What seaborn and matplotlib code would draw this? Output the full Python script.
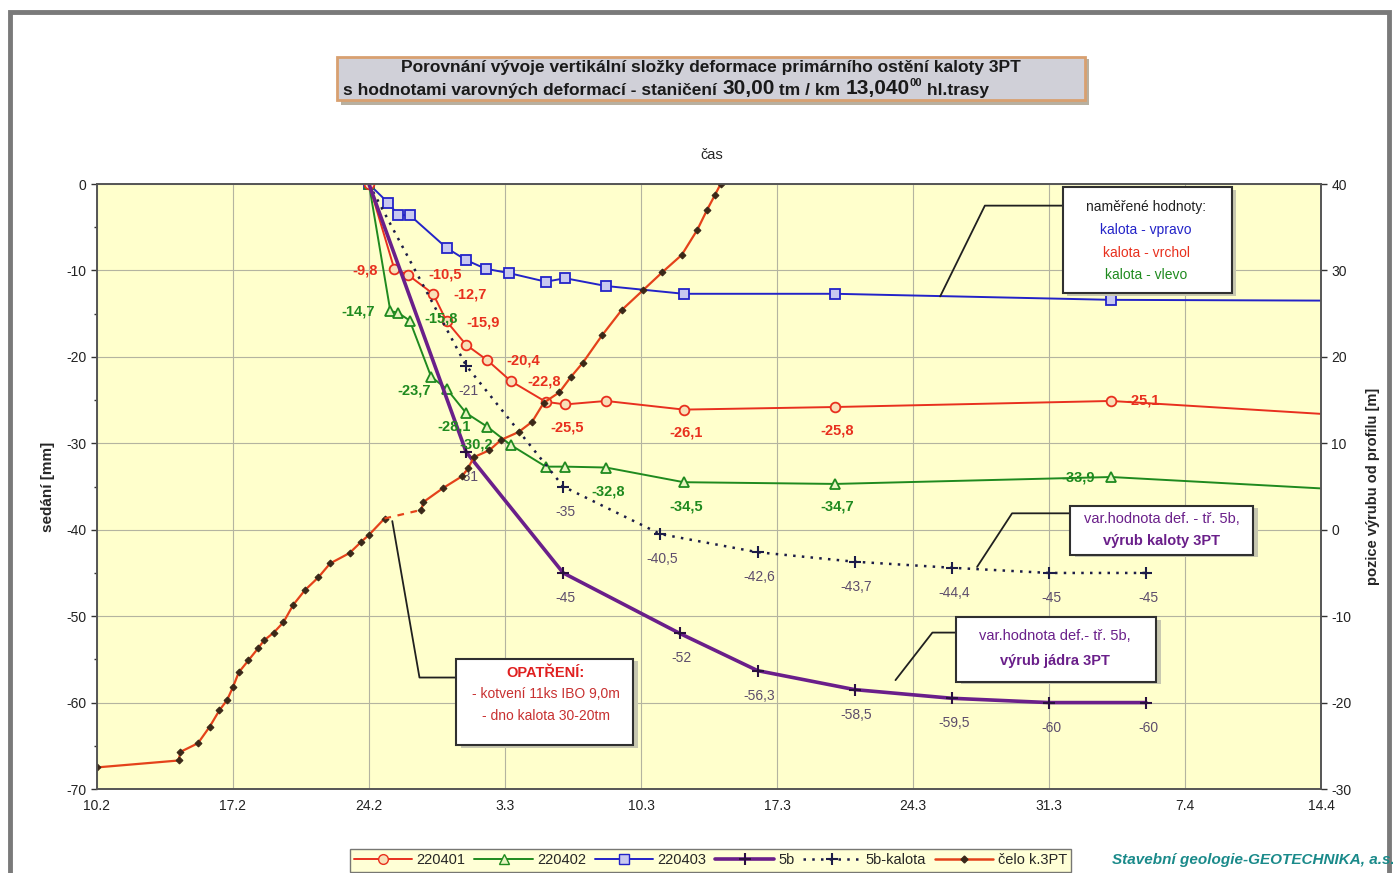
import matplotlib

matplotlib.use("Agg")
import matplotlib.pyplot as plt
import pandas as pd
import seaborn as sns
from matplotlib.lines import Line2D
from matplotlib.patches import Rectangle
from matplotlib.text import Annotation

# x = days since 10.2, left axis = settlement [mm], right axis = face position [m]
tick_labels = ["10.2", "17.2", "24.2", "3.3", "10.3", "17.3", "24.3", "31.3", "7.4", "14.4"]

days_401 = [14.0, 15.3, 16.0, 17.3, 18.0, 19.0, 20.1, 21.3, 23.1, 24.1, 26.2, 30.2, 38.0, 52.2, 64.5]
vals_401 = [0, -9.8, -10.5, -12.7, -15.9, -18.6, -20.4, -22.8, -25.2, -25.5, -25.1, -26.1, -25.8, -25.1, -26.8]

days_402 = [14.0, 15.1, 15.5, 16.1, 17.2, 18.0, 19.0, 20.1, 21.3, 23.1, 24.1, 26.2, 30.2, 38.0, 52.2, 64.5]
vals_402 = [0, -14.7, -14.9, -15.8, -22.3, -23.7, -26.5, -28.1, -30.2, -32.7, -32.7, -32.8, -34.5, -34.7, -33.9, -35.4]

days_403 = [14.0, 15.0, 15.5, 16.1, 18.0, 19.0, 20.0, 21.2, 23.1, 24.1, 26.2, 30.2, 38.0, 52.2, 64.5]
vals_403 = [0, -2.2, -3.6, -3.6, -7.4, -8.8, -9.8, -10.3, -11.3, -10.9, -11.8, -12.7, -12.7, -13.4, -13.5]

days_5b = [14, 19, 24, 30, 34, 39, 44, 49, 54]
vals_5b = [0, -31, -45, -52, -56.3, -58.5, -59.5, -60, -60]

days_kal = [14, 19, 24, 29, 34, 39, 44, 49, 54]
vals_kal = [0, -21, -35, -40.5, -42.6, -43.7, -44.4, -45, -45]

days_celo_a = [0, 4.2, 4.3, 5.2, 5.8, 6.3, 6.7, 7.0, 7.3, 7.8, 8.3, 8.6, 9.1, 9.6, 10.1, 10.7,
               11.4, 12.0, 13.0, 13.6, 14.0, 14.8]
vals_celo_a = [-27.5, -26.7, -25.7, -24.7, -22.8, -20.9, -19.7, -18.2, -16.5, -15.1, -13.7, -12.8,
               -11.9, -10.7, -8.7, -7.0, -5.5, -3.9, -2.7, -1.4, -0.6, 1.3]
days_celo_b = [16.7, 16.8, 17.8, 18.8, 19.1, 19.4, 20.2, 20.8, 21.7, 22.4, 23.0, 23.8, 24.4, 25.0,
               26.0, 27.0, 28.1, 29.1, 30.1, 30.9, 31.4, 31.8, 32.1]
vals_celo_b = [2.3, 3.2, 4.8, 6.2, 7.1, 8.4, 9.2, 10.4, 11.3, 12.5, 14.7, 15.9, 17.7, 19.3,
               22.5, 25.4, 27.7, 29.8, 31.8, 34.7, 37.0, 38.7, 40.0]

# label offsets in pixels (None = no label)
off_401 = [None, (-29, -2), (37, 0), (37, -1), (36, -1), None, (36, 0), (33, 0), None, (2, -23),
           None, (2, -23), (2, -23), (32, 0), None]
off_402 = [None, (-32, 0), None, (31, 2), None, (-33, -2), None, (-33, 0), (-35, 1), None, None,
           (2, -24), (2, -24), (2, -23), (-33, 0), None]

sns.set_theme(style="white")
plt.rcParams["font.family"] = ["Liberation Sans", "DejaVu Sans"]
plt.rcParams["axes.unicode_minus"] = False
NARROW = ["Liberation Sans Narrow", "Liberation Sans", "DejaVu Sans"]

C_RED, C_GREEN, C_BLUE = "#e8301e", "#1f8a1f", "#2323c8"
C_5B, C_KAL, C_CELO = "#6a1f8a", "#1c1c48", "#e4421a"
C_LAB = "#5c4c6c"


def fmt(v):
    return str(int(v)) if float(v).is_integer() else f"{v:.1f}".replace(".", ",")


def draw(axis, days, vals, **kw):
    df = pd.DataFrame({"den": days, "hodnota": vals})
    sns.lineplot(data=df, x="den", y="hodnota", ax=axis, estimator=None, sort=False, **kw)


def labels(axis, days, vals, offs, color, **kw):
    for d, v, o in zip(days, vals, offs):
        if o is None:
            continue
        axis.annotate(fmt(v), (d, v), xytext=o, textcoords="offset pixels", ha="center",
                      va="center", color=color, **kw)


fig = plt.figure(figsize=(13.93, 8.73), dpi=100)
ax = fig.add_axes([0.0696, 0.0962, 0.8787, 0.693])
ax.set_facecolor("#ffffcc")
ax2 = ax.twinx()

draw(ax, days_403, vals_403, color=C_BLUE, lw=1.4, marker="s", markersize=7,
     markerfacecolor="#c8c8f0", markeredgecolor=C_BLUE, markeredgewidth=1.3)
draw(ax, days_402, vals_402, color=C_GREEN, lw=1.4, marker="^", markersize=7,
     markerfacecolor="#e8f4c0", markeredgecolor=C_GREEN, markeredgewidth=1.3)
draw(ax, days_401, vals_401, color=C_RED, lw=1.4, marker="o", markersize=7,
     markerfacecolor="#f8e0b8", markeredgecolor=C_RED, markeredgewidth=1.3)
draw(ax, days_kal, vals_kal, color=C_KAL, lw=1.8, linestyle=(0, (1, 2.5)))
ax.plot(days_kal[1:], vals_kal[1:], "+", color=C_KAL, markersize=9, mew=1.5)
draw(ax, days_5b, vals_5b, color=C_5B, lw=2.6)
ax.plot(days_5b[1:], vals_5b[1:], "+", color="#2a1040", markersize=9, mew=1.5)

labels(ax, days_401, vals_401, off_401, C_RED, fontsize=10.5, fontweight="bold")
labels(ax, days_402, vals_402, off_402, C_GREEN, fontsize=10.5, fontweight="bold")
labels(ax, days_5b, vals_5b, [None] + [(2, -25)] * 8, C_LAB, fontsize=10)
labels(ax, days_kal, vals_kal, [None] + [(2, -25)] * 8, C_LAB, fontsize=10)

draw(ax2, days_celo_a, vals_celo_a, color=C_CELO, lw=1.6, marker="D", markersize=3.5,
     markerfacecolor="#3a2818", markeredgecolor="#3a2818")
draw(ax2, days_celo_b, vals_celo_b, color=C_CELO, lw=1.6, marker="D", markersize=3.5,
     markerfacecolor="#3a2818", markeredgecolor="#3a2818")
ax2.plot([days_celo_a[-1], days_celo_b[0]], [vals_celo_a[-1], vals_celo_b[0]], color=C_CELO,
         lw=1.6, linestyle=(0, (3, 3)))

# axes
ax.set_xlim(0, 63)
ax.set_xticks(range(0, 64, 7))
ax.set_xticklabels(tick_labels, family=NARROW)
ax.set_ylim(-70, 0)
ax.set_yticks(range(-70, 1, 10))
ax.set_yticks(range(-65, 0, 10), minor=True)
ax2.set_ylim(-30, 40)
ax2.set_yticks(range(-30, 41, 10))
for a in (ax, ax2):
    for lab in a.get_yticklabels():
        lab.set_family(NARROW)
    a.tick_params(axis="both", which="major", direction="out", length=4, width=1, colors="#333333",
                  labelsize=10, labelcolor="#222222")
    a.tick_params(axis="y", which="minor", direction="out", length=2, width=1, colors="#333333", left=True)
    a.set_xlabel("")
ax.grid(True, which="major", color="#b4b4a0", lw=0.8)
ax2.grid(False)
for a in (ax, ax2):
    for s in a.spines.values():
        s.set_color("#555555")
        s.set_linewidth(1.2)
ax.set_ylabel("sedání [mm]", fontsize=11, fontweight="bold", family=NARROW, labelpad=8)
ax2.set_ylabel("pozice výrubu od profilu [m]", fontsize=10.5, fontweight="bold", family=NARROW,
               labelpad=10)
fig.text(0.511, 0.822, "čas", ha="center", va="center", fontsize=10.5, family=NARROW)


# annotation boxes (data coordinates of the left axis)
def box(x0, x1, y0, y1):
    ax.add_patch(Rectangle((x0 + 0.25, y0 - 0.3), x1 - x0, y1 - y0, facecolor="#c8c8b0",
                           edgecolor="none", zorder=5))
    ax.add_patch(Rectangle((x0, y0), x1 - x0, y1 - y0, facecolor="white", edgecolor="#303030",
                           lw=1.5, zorder=6))


def leader(xs, ys):
    ax.plot(xs, ys, color="#202020", lw=1.3, zorder=5)


leader([43.4, 45.7, 49.7], [-13.0, -2.5, -2.5])
box(49.7, 58.4, -12.6, -0.35)
for txt, y, c in [("naměřené hodnoty:", -2.7, "#222222"), ("kalota - vpravo", -5.3, C_BLUE),
                  ("kalota - vrchol", -8.0, C_RED), ("kalota - vlevo", -10.5, C_GREEN)]:
    ax.text(54.0, y, txt, ha="center", va="center", color=c, fontsize=10, family=NARROW, zorder=7)

leader([45.3, 47.1, 50.1], [-44.3, -38.1, -38.1])
box(50.1, 59.5, -42.9, -37.2)
ax.text(54.8, -38.8, "var.hodnota def. - tř. 5b,", ha="center", va="center", color=C_5B,
        fontsize=10.5, family=NARROW, zorder=7)
ax.text(54.8, -41.3, "výrub kaloty 3PT", ha="center", va="center", color=C_5B, fontsize=10.5,
        fontweight="bold", family=NARROW, zorder=7)

leader([41.1, 43.0, 44.2], [-57.4, -51.9, -51.9])
box(44.2, 54.5, -57.6, -50.1)
ax.text(49.3, -52.3, "var.hodnota def.- tř. 5b,", ha="center", va="center", color=C_5B,
        fontsize=10.5, family=NARROW, zorder=7)
ax.text(49.3, -55.2, "výrub jádra 3PT", ha="center", va="center", color=C_5B, fontsize=10.5,
        fontweight="bold", family=NARROW, zorder=7)

leader([15.2, 16.6, 18.5], [-39.0, -57.1, -57.1])
box(18.5, 27.6, -64.9, -54.9)
ax.text(23.1, -56.6, "OPATŘENÍ:", ha="center", va="center", color="#e02020", fontsize=10.5,
        fontweight="bold", family=NARROW, zorder=7)
ax.text(23.1, -59.0, "- kotvení 11ks IBO 9,0m", ha="center", va="center", color="#c83030",
        fontsize=10, family=NARROW, zorder=7)
ax.text(23.1, -61.5, "- dno kalota 30-20tm", ha="center", va="center", color="#c83030",
        fontsize=10, family=NARROW, zorder=7)

# title box
fig.patches.append(Rectangle((0.245, 0.880), 0.537, 0.052, transform=fig.transFigure,
                             facecolor="#b8b0a0", edgecolor="none", zorder=0))
fig.patches.append(Rectangle((0.242, 0.885), 0.537, 0.050, transform=fig.transFigure,
                             facecolor="#d0d0d8", edgecolor="#d8a070", lw=2, zorder=1))
TK = dict(fontweight="bold", family=NARROW, color="#1a1a1a")
fig.text(0.5105, 0.9225, "Porovnání vývoje vertikální složky deformace primárního ostění kaloty 3PT",
         ha="center", va="center", fontsize=12.5, **TK)
first = fig.text(0.2465, 0.8875, "s hodnotami varovných deformací - staničení ", ha="left",
                 va="bottom", fontsize=12.5, **TK)
big1 = fig.add_artist(Annotation("30,00", xy=(1, 0), xycoords=first, ha="left", va="bottom",
                                 fontsize=15, **TK))
mid = fig.add_artist(Annotation(" tm / km ", xy=(1, 0), xycoords=big1, ha="left", va="bottom",
                                fontsize=12.5, **TK))
big2 = fig.add_artist(Annotation("13,040", xy=(1, 0), xycoords=mid, ha="left", va="bottom",
                                 fontsize=15, **TK))
sup = fig.add_artist(Annotation("00", xy=(1, 0.55), xycoords=big2, ha="left", va="bottom",
                                fontsize=8, **TK))
fig.add_artist(Annotation(" hl.trasy", xy=(1, 0), xycoords=(sup, first), ha="left", va="bottom",
                          fontsize=12.5, **TK))

# legend
handles = [
    Line2D([], [], color=C_RED, lw=1.4, marker="o", markersize=7, markerfacecolor="#f8e0b8",
           markeredgecolor=C_RED),
    Line2D([], [], color=C_GREEN, lw=1.4, marker="^", markersize=7, markerfacecolor="#e8f4c0",
           markeredgecolor=C_GREEN),
    Line2D([], [], color=C_BLUE, lw=1.4, marker="s", markersize=7, markerfacecolor="#c8c8f0",
           markeredgecolor=C_BLUE),
    Line2D([], [], color=C_5B, lw=2.6, marker="+", markersize=9, markeredgecolor="#2a1040", mew=1.5),
    Line2D([], [], color=C_KAL, lw=1.8, linestyle=(0, (1, 2.5)), marker="+", markersize=9, mew=1.5),
    Line2D([], [], color=C_CELO, lw=1.8, marker="D", markersize=3.5, markerfacecolor="#3a2818",
           markeredgecolor="#3a2818"),
]
leg = fig.legend(handles, ["220401", "220402", "220403", "5b", "5b-kalota", "čelo k.3PT"],
                 loc="center", bbox_to_anchor=(0.51, 0.0145), ncol=6, frameon=True,
                 handlelength=4.0, handletextpad=0.3, columnspacing=0.6, borderpad=0.3,
                 prop={"family": NARROW, "size": 10.5})
leg.get_frame().set_facecolor("#ffffcc")
leg.get_frame().set_edgecolor("#555555")
leg.get_frame().set_boxstyle("square", pad=0.0)

fig.text(0.798, 0.0145, "Stavební geologie-GEOTECHNIKA, a.s.", ha="left", va="center",
         fontsize=11, fontweight="bold", style="italic", color="#1a8a8a")

# outer frame
fig.patches.append(Rectangle((0.007, -0.05), 0.990, 1.036, transform=fig.transFigure,
                             facecolor="none", edgecolor="#7a7a7a", lw=3.5))

fig.savefig("out.png", dpi=100)
